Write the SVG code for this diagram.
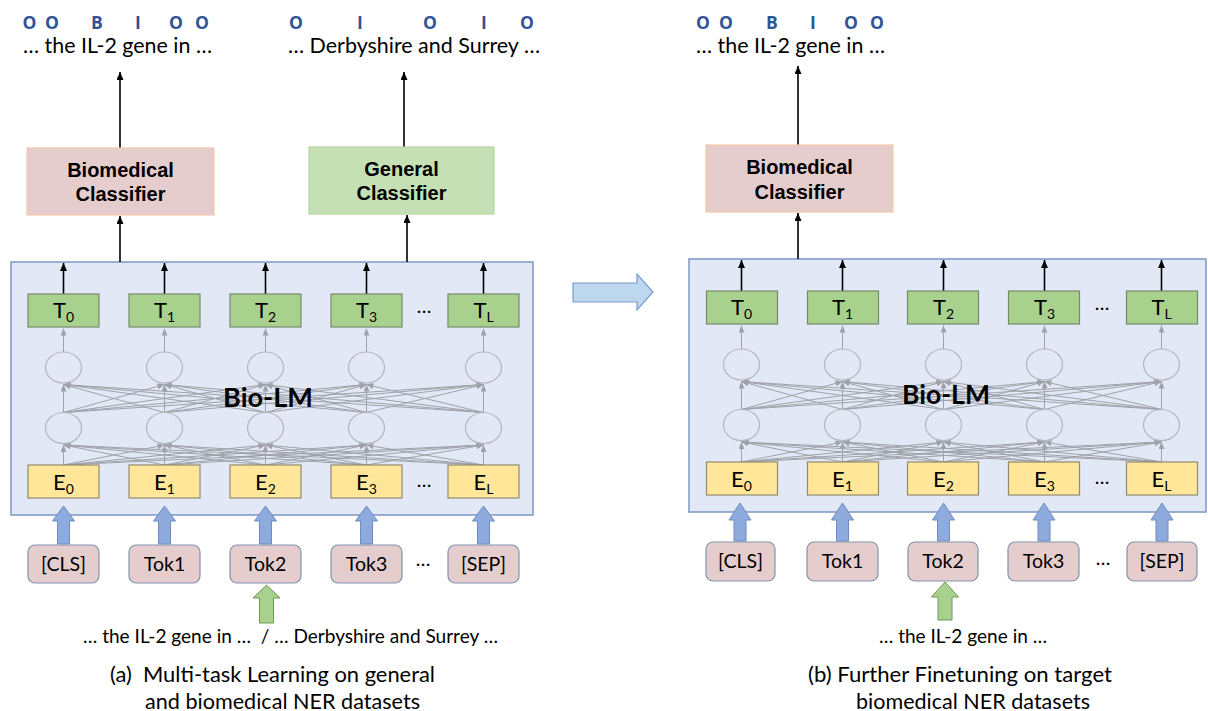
<svg xmlns="http://www.w3.org/2000/svg" width="1208" height="711" viewBox="0 0 1208 711">
<defs>
<marker id="ga" markerUnits="userSpaceOnUse" markerWidth="7" markerHeight="6" refX="7" refY="3" orient="auto"><path d="M0,0 L7,3 L0,6 z" fill="#9fa2a8"/></marker>
<marker id="ka" markerUnits="userSpaceOnUse" markerWidth="8" markerHeight="7" refX="8" refY="3.5" orient="auto"><path d="M0,0 L8,3.5 L0,7 z" fill="#000"/></marker>
<style>
.box{fill:#e2e8f5;stroke:#7c96c6;stroke-width:1.5}
.t{fill:#a9d18e;stroke:#768a6a;stroke-width:1.2}
.e{fill:#ffe699;stroke:#8f8a70;stroke-width:1.2}
.neu{fill:none;stroke:#b3b7c0;stroke-width:1.2}
.tok{fill:#e6cdcd;stroke:#8193ae;stroke-width:1.2}
.lbl{font-family:Lato,"Open Sans",sans-serif;fill:#000}
.mid{text-anchor:middle}
.g{stroke:#9fa2a8;stroke-width:1;marker-end:url(#ga)}
.k{stroke:#000;stroke-width:1.6;marker-end:url(#ka)}
.barr{fill:#8faadc;stroke:#6d8cc0;stroke-width:1}
.garr{fill:#a9d18e;stroke:#6f9a55;stroke-width:1}
.tag{font-family:"Open Sans",sans-serif;font-weight:bold;font-size:17.5px;fill:#2f5597;text-anchor:middle}
.cls{font-family:"Liberation Sans",Arial,sans-serif;font-weight:bold;font-size:20px;text-anchor:middle;fill:#000}
.bio{font-family:Lato,"Open Sans",sans-serif;font-weight:bold;font-size:27px;fill:#000;text-anchor:middle}
.te{font-size:22px}
.sub{font-size:14px}
.tk{font-size:19.5px}
</style>
</defs>
<rect width="1208" height="711" fill="#fff"/>

<!-- ================= LEFT PANEL ================= -->
<g id="left-biolm-box"><rect class="box" x="11" y="262" width="522" height="253"/></g>

<g id="left-connectors">
<line class="g" x1="63.5" y1="465" x2="63.5" y2="445"/><line class="g" x1="63.5" y1="465" x2="164.5" y2="445"/><line class="g" x1="63.5" y1="465" x2="265.5" y2="445"/><line class="g" x1="63.5" y1="465" x2="366.5" y2="445"/><line class="g" x1="63.5" y1="465" x2="483.5" y2="445"/>
<line class="g" x1="164.5" y1="465" x2="63.5" y2="445"/><line class="g" x1="164.5" y1="465" x2="164.5" y2="445"/><line class="g" x1="164.5" y1="465" x2="265.5" y2="445"/><line class="g" x1="164.5" y1="465" x2="366.5" y2="445"/><line class="g" x1="164.5" y1="465" x2="483.5" y2="445"/>
<line class="g" x1="265.5" y1="465" x2="63.5" y2="445"/><line class="g" x1="265.5" y1="465" x2="164.5" y2="445"/><line class="g" x1="265.5" y1="465" x2="265.5" y2="445"/><line class="g" x1="265.5" y1="465" x2="366.5" y2="445"/><line class="g" x1="265.5" y1="465" x2="483.5" y2="445"/>
<line class="g" x1="366.5" y1="465" x2="63.5" y2="445"/><line class="g" x1="366.5" y1="465" x2="164.5" y2="445"/><line class="g" x1="366.5" y1="465" x2="265.5" y2="445"/><line class="g" x1="366.5" y1="465" x2="366.5" y2="445"/><line class="g" x1="366.5" y1="465" x2="483.5" y2="445"/>
<line class="g" x1="483.5" y1="465" x2="63.5" y2="445"/><line class="g" x1="483.5" y1="465" x2="164.5" y2="445"/><line class="g" x1="483.5" y1="465" x2="265.5" y2="445"/><line class="g" x1="483.5" y1="465" x2="366.5" y2="445"/><line class="g" x1="483.5" y1="465" x2="483.5" y2="445"/>
<line class="g" x1="63.5" y1="412.5" x2="63.5" y2="384.5"/><line class="g" x1="63.5" y1="412.5" x2="164.5" y2="384.5"/><line class="g" x1="63.5" y1="412.5" x2="265.5" y2="384.5"/><line class="g" x1="63.5" y1="412.5" x2="366.5" y2="384.5"/><line class="g" x1="63.5" y1="412.5" x2="483.5" y2="384.5"/>
<line class="g" x1="164.5" y1="412.5" x2="63.5" y2="384.5"/><line class="g" x1="164.5" y1="412.5" x2="164.5" y2="384.5"/><line class="g" x1="164.5" y1="412.5" x2="265.5" y2="384.5"/><line class="g" x1="164.5" y1="412.5" x2="366.5" y2="384.5"/><line class="g" x1="164.5" y1="412.5" x2="483.5" y2="384.5"/>
<line class="g" x1="265.5" y1="412.5" x2="63.5" y2="384.5"/><line class="g" x1="265.5" y1="412.5" x2="164.5" y2="384.5"/><line class="g" x1="265.5" y1="412.5" x2="265.5" y2="384.5"/><line class="g" x1="265.5" y1="412.5" x2="366.5" y2="384.5"/><line class="g" x1="265.5" y1="412.5" x2="483.5" y2="384.5"/>
<line class="g" x1="366.5" y1="412.5" x2="63.5" y2="384.5"/><line class="g" x1="366.5" y1="412.5" x2="164.5" y2="384.5"/><line class="g" x1="366.5" y1="412.5" x2="265.5" y2="384.5"/><line class="g" x1="366.5" y1="412.5" x2="366.5" y2="384.5"/><line class="g" x1="366.5" y1="412.5" x2="483.5" y2="384.5"/>
<line class="g" x1="483.5" y1="412.5" x2="63.5" y2="384.5"/><line class="g" x1="483.5" y1="412.5" x2="164.5" y2="384.5"/><line class="g" x1="483.5" y1="412.5" x2="265.5" y2="384.5"/><line class="g" x1="483.5" y1="412.5" x2="366.5" y2="384.5"/><line class="g" x1="483.5" y1="412.5" x2="483.5" y2="384.5"/>
<line class="g" x1="63.5" y1="352" x2="63.5" y2="328.5"/><line class="g" x1="164.5" y1="352" x2="164.5" y2="328.5"/><line class="g" x1="265.5" y1="352" x2="265.5" y2="328.5"/><line class="g" x1="366.5" y1="352" x2="366.5" y2="328.5"/><line class="g" x1="483.5" y1="352" x2="483.5" y2="328.5"/>
<line class="k" x1="63.5" y1="294" x2="63.5" y2="263"/><line class="k" x1="164.5" y1="294" x2="164.5" y2="263"/><line class="k" x1="265.5" y1="294" x2="265.5" y2="263"/><line class="k" x1="366.5" y1="294" x2="366.5" y2="263"/><line class="k" x1="483.5" y1="294" x2="483.5" y2="263"/>
<line class="k" x1="120" y1="262" x2="120" y2="216"/>
<line class="k" x1="407" y1="262" x2="407" y2="215"/>
<line class="k" x1="120" y1="148" x2="120" y2="72"/>
<line class="k" x1="404" y1="147" x2="404" y2="72"/>
<polygon class="barr" points="63.5,506 74.5,521 69.5,521 69.5,544 57.5,544 57.5,521 52.5,521"/>
<polygon class="barr" points="164.5,506 175.5,521 170.5,521 170.5,544 158.5,544 158.5,521 153.5,521"/>
<polygon class="barr" points="265.5,506 276.5,521 271.5,521 271.5,544 259.5,544 259.5,521 254.5,521"/>
<polygon class="barr" points="366.5,506 377.5,521 372.5,521 372.5,544 360.5,544 360.5,521 355.5,521"/>
<polygon class="barr" points="483.5,506 494.5,521 489.5,521 489.5,544 477.5,544 477.5,521 472.5,521"/>
<polygon class="garr" points="266.5,585 280,598 273.5,598 273.5,623 259.5,623 259.5,598 253,598"/>
</g>

<g id="left-neurons">
<ellipse class="neu" cx="63.5" cy="367.5" rx="18" ry="15.5"/><ellipse class="neu" cx="164.5" cy="367.5" rx="18" ry="15.5"/><ellipse class="neu" cx="265.5" cy="367.5" rx="18" ry="15.5"/><ellipse class="neu" cx="366.5" cy="367.5" rx="18" ry="15.5"/><ellipse class="neu" cx="483.5" cy="367.5" rx="18" ry="15.5"/>
<ellipse class="neu" cx="63.5" cy="428" rx="18" ry="15.5"/><ellipse class="neu" cx="164.5" cy="428" rx="18" ry="15.5"/><ellipse class="neu" cx="265.5" cy="428" rx="18" ry="15.5"/><ellipse class="neu" cx="366.5" cy="428" rx="18" ry="15.5"/><ellipse class="neu" cx="483.5" cy="428" rx="18" ry="15.5"/>
</g>
<text class="bio" x="268" y="407" textLength="90" lengthAdjust="spacingAndGlyphs">Bio-LM</text>

<g id="left-T0"><rect class="t" x="28" y="294" width="71" height="33"/><text class="lbl mid te" x="63.5" y="318">T<tspan class="sub" dy="4">0</tspan></text></g>
<g id="left-T1"><rect class="t" x="129" y="294" width="71" height="33"/><text class="lbl mid te" x="164.5" y="318">T<tspan class="sub" dy="4">1</tspan></text></g>
<g id="left-T2"><rect class="t" x="230" y="294" width="71" height="33"/><text class="lbl mid te" x="265.5" y="318">T<tspan class="sub" dy="4">2</tspan></text></g>
<g id="left-T3"><rect class="t" x="331" y="294" width="71" height="33"/><text class="lbl mid te" x="366.5" y="318">T<tspan class="sub" dy="4">3</tspan></text></g>
<g id="left-TL"><rect class="t" x="448" y="294" width="71" height="33"/><text class="lbl mid te" x="483.5" y="318">T<tspan class="sub" dy="4">L</tspan></text></g>
<text class="lbl mid tk" x="424" y="313">…</text>

<g id="left-E0"><rect class="e" x="28" y="465" width="71" height="33"/><text class="lbl mid te" x="63.5" y="490">E<tspan class="sub" dy="4">0</tspan></text></g>
<g id="left-E1"><rect class="e" x="129" y="465" width="71" height="33"/><text class="lbl mid te" x="164.5" y="490">E<tspan class="sub" dy="4">1</tspan></text></g>
<g id="left-E2"><rect class="e" x="230" y="465" width="71" height="33"/><text class="lbl mid te" x="265.5" y="490">E<tspan class="sub" dy="4">2</tspan></text></g>
<g id="left-E3"><rect class="e" x="331" y="465" width="71" height="33"/><text class="lbl mid te" x="366.5" y="490">E<tspan class="sub" dy="4">3</tspan></text></g>
<g id="left-EL"><rect class="e" x="448" y="465" width="71" height="33"/><text class="lbl mid te" x="483.5" y="490">E<tspan class="sub" dy="4">L</tspan></text></g>
<text class="lbl mid tk" x="424" y="487">…</text>

<g id="left-cls"><rect class="tok" x="28" y="545" width="71" height="38" rx="7"/><text class="lbl mid tk" x="63.5" y="570.5">[CLS]</text></g>
<g id="left-tok1"><rect class="tok" x="129" y="545" width="71" height="38" rx="7"/><text class="lbl mid tk" x="164.5" y="570.5">Tok1</text></g>
<g id="left-tok2"><rect class="tok" x="230" y="545" width="71" height="38" rx="7"/><text class="lbl mid tk" x="265.5" y="570.5">Tok2</text></g>
<g id="left-tok3"><rect class="tok" x="331" y="545" width="71" height="38" rx="7"/><text class="lbl mid tk" x="366.5" y="570.5">Tok3</text></g>
<g id="left-sep"><rect class="tok" x="448" y="545" width="71" height="38" rx="7"/><text class="lbl mid tk" x="483.5" y="570.5">[SEP]</text></g>
<text class="lbl mid tk" x="423" y="566">…</text>

<g id="left-biomed-classifier"><rect x="27" y="148" width="187" height="67" fill="#e6cdcd" stroke="#f4c9a8" stroke-width="1.2"/><text class="cls" x="120.5" y="177">Biomedical</text><text class="cls" x="120.5" y="201">Classifier</text></g>
<g id="left-general-classifier"><rect x="309" y="147" width="185" height="67" fill="#c5e0b4" stroke="#b5d69f" stroke-width="1.2"/><text class="cls" x="401.5" y="176">General</text><text class="cls" x="401.5" y="200">Classifier</text></g>

<g id="left-output-bio">
<text class="tag" x="29.5" y="29">O</text><text class="tag" x="52" y="29">O</text><text class="tag" x="97" y="29">B</text><text class="tag" x="138" y="29">I</text><text class="tag" x="176" y="29">O</text><text class="tag" x="202" y="29">O</text>
<text class="lbl" x="23" y="53" font-size="20.5" textLength="189" lengthAdjust="spacingAndGlyphs">… the IL-2 gene in …</text>
</g>
<g id="left-output-general">
<text class="tag" x="296" y="29">O</text><text class="tag" x="360" y="29">I</text><text class="tag" x="430" y="29">O</text><text class="tag" x="484" y="29">I</text><text class="tag" x="527" y="29">O</text>
<text class="lbl" x="288" y="53" font-size="20.5" textLength="252" lengthAdjust="spacingAndGlyphs">… Derbyshire and Surrey …</text>
</g>

<text class="lbl" x="83" y="643" font-size="18.5" textLength="415" lengthAdjust="spacingAndGlyphs" xml:space="preserve">… the IL-2 gene in …  / … Derbyshire and Surrey …</text>
<text class="lbl" x="110" y="682" font-size="21" textLength="325" lengthAdjust="spacingAndGlyphs" xml:space="preserve">(a)  Multi-task Learning on general</text>
<text class="lbl" x="145" y="709" font-size="21" textLength="275" lengthAdjust="spacingAndGlyphs">and biomedical NER datasets</text>

<!-- ================= TRANSITION ARROW ================= -->
<g id="transition-arrow"><polygon points="573,283 637,283 637,274 653,292 637,310 637,302 573,302" fill="#bdd7ee" stroke="#7e9cc8" stroke-width="1.2"/></g>

<!-- ================= RIGHT PANEL ================= -->
<g id="right-biolm-box"><rect class="box" x="689" y="259" width="517" height="253"/></g>

<g id="right-connectors">
<line class="g" x1="741.5" y1="462" x2="741.5" y2="442"/><line class="g" x1="741.5" y1="462" x2="842.5" y2="442"/><line class="g" x1="741.5" y1="462" x2="943.5" y2="442"/><line class="g" x1="741.5" y1="462" x2="1044.5" y2="442"/><line class="g" x1="741.5" y1="462" x2="1161.5" y2="442"/>
<line class="g" x1="842.5" y1="462" x2="741.5" y2="442"/><line class="g" x1="842.5" y1="462" x2="842.5" y2="442"/><line class="g" x1="842.5" y1="462" x2="943.5" y2="442"/><line class="g" x1="842.5" y1="462" x2="1044.5" y2="442"/><line class="g" x1="842.5" y1="462" x2="1161.5" y2="442"/>
<line class="g" x1="943.5" y1="462" x2="741.5" y2="442"/><line class="g" x1="943.5" y1="462" x2="842.5" y2="442"/><line class="g" x1="943.5" y1="462" x2="943.5" y2="442"/><line class="g" x1="943.5" y1="462" x2="1044.5" y2="442"/><line class="g" x1="943.5" y1="462" x2="1161.5" y2="442"/>
<line class="g" x1="1044.5" y1="462" x2="741.5" y2="442"/><line class="g" x1="1044.5" y1="462" x2="842.5" y2="442"/><line class="g" x1="1044.5" y1="462" x2="943.5" y2="442"/><line class="g" x1="1044.5" y1="462" x2="1044.5" y2="442"/><line class="g" x1="1044.5" y1="462" x2="1161.5" y2="442"/>
<line class="g" x1="1161.5" y1="462" x2="741.5" y2="442"/><line class="g" x1="1161.5" y1="462" x2="842.5" y2="442"/><line class="g" x1="1161.5" y1="462" x2="943.5" y2="442"/><line class="g" x1="1161.5" y1="462" x2="1044.5" y2="442"/><line class="g" x1="1161.5" y1="462" x2="1161.5" y2="442"/>
<line class="g" x1="741.5" y1="409.5" x2="741.5" y2="381.5"/><line class="g" x1="741.5" y1="409.5" x2="842.5" y2="381.5"/><line class="g" x1="741.5" y1="409.5" x2="943.5" y2="381.5"/><line class="g" x1="741.5" y1="409.5" x2="1044.5" y2="381.5"/><line class="g" x1="741.5" y1="409.5" x2="1161.5" y2="381.5"/>
<line class="g" x1="842.5" y1="409.5" x2="741.5" y2="381.5"/><line class="g" x1="842.5" y1="409.5" x2="842.5" y2="381.5"/><line class="g" x1="842.5" y1="409.5" x2="943.5" y2="381.5"/><line class="g" x1="842.5" y1="409.5" x2="1044.5" y2="381.5"/><line class="g" x1="842.5" y1="409.5" x2="1161.5" y2="381.5"/>
<line class="g" x1="943.5" y1="409.5" x2="741.5" y2="381.5"/><line class="g" x1="943.5" y1="409.5" x2="842.5" y2="381.5"/><line class="g" x1="943.5" y1="409.5" x2="943.5" y2="381.5"/><line class="g" x1="943.5" y1="409.5" x2="1044.5" y2="381.5"/><line class="g" x1="943.5" y1="409.5" x2="1161.5" y2="381.5"/>
<line class="g" x1="1044.5" y1="409.5" x2="741.5" y2="381.5"/><line class="g" x1="1044.5" y1="409.5" x2="842.5" y2="381.5"/><line class="g" x1="1044.5" y1="409.5" x2="943.5" y2="381.5"/><line class="g" x1="1044.5" y1="409.5" x2="1044.5" y2="381.5"/><line class="g" x1="1044.5" y1="409.5" x2="1161.5" y2="381.5"/>
<line class="g" x1="1161.5" y1="409.5" x2="741.5" y2="381.5"/><line class="g" x1="1161.5" y1="409.5" x2="842.5" y2="381.5"/><line class="g" x1="1161.5" y1="409.5" x2="943.5" y2="381.5"/><line class="g" x1="1161.5" y1="409.5" x2="1044.5" y2="381.5"/><line class="g" x1="1161.5" y1="409.5" x2="1161.5" y2="381.5"/>
<line class="g" x1="741.5" y1="349" x2="741.5" y2="325.5"/><line class="g" x1="842.5" y1="349" x2="842.5" y2="325.5"/><line class="g" x1="943.5" y1="349" x2="943.5" y2="325.5"/><line class="g" x1="1044.5" y1="349" x2="1044.5" y2="325.5"/><line class="g" x1="1161.5" y1="349" x2="1161.5" y2="325.5"/>
<line class="k" x1="741.5" y1="291" x2="741.5" y2="260"/><line class="k" x1="842.5" y1="291" x2="842.5" y2="260"/><line class="k" x1="943.5" y1="291" x2="943.5" y2="260"/><line class="k" x1="1044.5" y1="291" x2="1044.5" y2="260"/><line class="k" x1="1161.5" y1="291" x2="1161.5" y2="260"/>
<line class="k" x1="798" y1="259" x2="798" y2="213"/>
<line class="k" x1="798" y1="145" x2="798" y2="66"/>
<polygon class="barr" points="740,503 751,520 746,520 746,541 734,541 734,520 729,520"/>
<polygon class="barr" points="842.5,503 853.5,520 848.5,520 848.5,541 836.5,541 836.5,520 831.5,520"/>
<polygon class="barr" points="943.5,503 954.5,520 949.5,520 949.5,541 937.5,541 937.5,520 932.5,520"/>
<polygon class="barr" points="1044,503 1055,520 1050,520 1050,541 1038,541 1038,520 1033,520"/>
<polygon class="barr" points="1162,503 1173,520 1168,520 1168,541 1156,541 1156,520 1151,520"/>
<polygon class="garr" points="945,582 958.5,597 952,597 952,620 938,620 938,597 931.5,597"/>
</g>

<g id="right-neurons">
<ellipse class="neu" cx="741.5" cy="364.5" rx="18" ry="15.5"/><ellipse class="neu" cx="842.5" cy="364.5" rx="18" ry="15.5"/><ellipse class="neu" cx="943.5" cy="364.5" rx="18" ry="15.5"/><ellipse class="neu" cx="1044.5" cy="364.5" rx="18" ry="15.5"/><ellipse class="neu" cx="1161.5" cy="364.5" rx="18" ry="15.5"/>
<ellipse class="neu" cx="741.5" cy="425" rx="18" ry="15.5"/><ellipse class="neu" cx="842.5" cy="425" rx="18" ry="15.5"/><ellipse class="neu" cx="943.5" cy="425" rx="18" ry="15.5"/><ellipse class="neu" cx="1044.5" cy="425" rx="18" ry="15.5"/><ellipse class="neu" cx="1161.5" cy="425" rx="18" ry="15.5"/>
</g>
<text class="bio" x="946" y="404" textLength="88" lengthAdjust="spacingAndGlyphs">Bio-LM</text>

<g id="right-T0"><rect class="t" x="706.5" y="291" width="71" height="33"/><text class="lbl mid te" x="741.5" y="315">T<tspan class="sub" dy="4">0</tspan></text></g>
<g id="right-T1"><rect class="t" x="807.5" y="291" width="71" height="33"/><text class="lbl mid te" x="842.5" y="315">T<tspan class="sub" dy="4">1</tspan></text></g>
<g id="right-T2"><rect class="t" x="907.5" y="291" width="71" height="33"/><text class="lbl mid te" x="943.5" y="315">T<tspan class="sub" dy="4">2</tspan></text></g>
<g id="right-T3"><rect class="t" x="1008.5" y="291" width="71" height="33"/><text class="lbl mid te" x="1044.5" y="315">T<tspan class="sub" dy="4">3</tspan></text></g>
<g id="right-TL"><rect class="t" x="1126.5" y="291" width="71" height="33"/><text class="lbl mid te" x="1161.5" y="315">T<tspan class="sub" dy="4">L</tspan></text></g>
<text class="lbl mid tk" x="1102" y="310">…</text>

<g id="right-E0"><rect class="e" x="706.5" y="462" width="71" height="33"/><text class="lbl mid te" x="741.5" y="487">E<tspan class="sub" dy="4">0</tspan></text></g>
<g id="right-E1"><rect class="e" x="807.5" y="462" width="71" height="33"/><text class="lbl mid te" x="842.5" y="487">E<tspan class="sub" dy="4">1</tspan></text></g>
<g id="right-E2"><rect class="e" x="907.5" y="462" width="71" height="33"/><text class="lbl mid te" x="943.5" y="487">E<tspan class="sub" dy="4">2</tspan></text></g>
<g id="right-E3"><rect class="e" x="1008.5" y="462" width="71" height="33"/><text class="lbl mid te" x="1044.5" y="487">E<tspan class="sub" dy="4">3</tspan></text></g>
<g id="right-EL"><rect class="e" x="1126.5" y="462" width="71" height="33"/><text class="lbl mid te" x="1161.5" y="487">E<tspan class="sub" dy="4">L</tspan></text></g>
<text class="lbl mid tk" x="1102" y="484">…</text>

<g id="right-cls"><rect class="tok" x="706" y="542" width="69" height="39" rx="7"/><text class="lbl mid tk" x="740.5" y="568">[CLS]</text></g>
<g id="right-tok1"><rect class="tok" x="807" y="542" width="71" height="39" rx="7"/><text class="lbl mid tk" x="842.5" y="568">Tok1</text></g>
<g id="right-tok2"><rect class="tok" x="908" y="542" width="70" height="39" rx="7"/><text class="lbl mid tk" x="943" y="568">Tok2</text></g>
<g id="right-tok3"><rect class="tok" x="1008" y="542" width="71" height="39" rx="7"/><text class="lbl mid tk" x="1043.5" y="568">Tok3</text></g>
<g id="right-sep"><rect class="tok" x="1127" y="542" width="70" height="39" rx="7"/><text class="lbl mid tk" x="1162" y="568">[SEP]</text></g>
<text class="lbl mid tk" x="1103" y="565">…</text>

<g id="right-biomed-classifier"><rect x="706" y="145" width="187" height="67" fill="#e6cdcd" stroke="#f4c9a8" stroke-width="1.2"/><text class="cls" x="799.5" y="174">Biomedical</text><text class="cls" x="799.5" y="199">Classifier</text></g>

<g id="right-output-bio">
<text class="tag" x="703" y="29">O</text><text class="tag" x="726" y="29">O</text><text class="tag" x="772" y="29">B</text><text class="tag" x="813" y="29">I</text><text class="tag" x="851" y="29">O</text><text class="tag" x="877" y="29">O</text>
<text class="lbl" x="696" y="53" font-size="20.5" textLength="189" lengthAdjust="spacingAndGlyphs">… the IL-2 gene in …</text>
</g>

<text class="lbl" x="879" y="643" font-size="18.5" textLength="168" lengthAdjust="spacingAndGlyphs">… the IL-2 gene in …</text>
<text class="lbl" x="808" y="682" font-size="21" textLength="304" lengthAdjust="spacingAndGlyphs">(b) Further Finetuning on target</text>
<text class="lbl" x="856" y="709" font-size="21" textLength="234" lengthAdjust="spacingAndGlyphs">biomedical NER datasets</text>
</svg>
